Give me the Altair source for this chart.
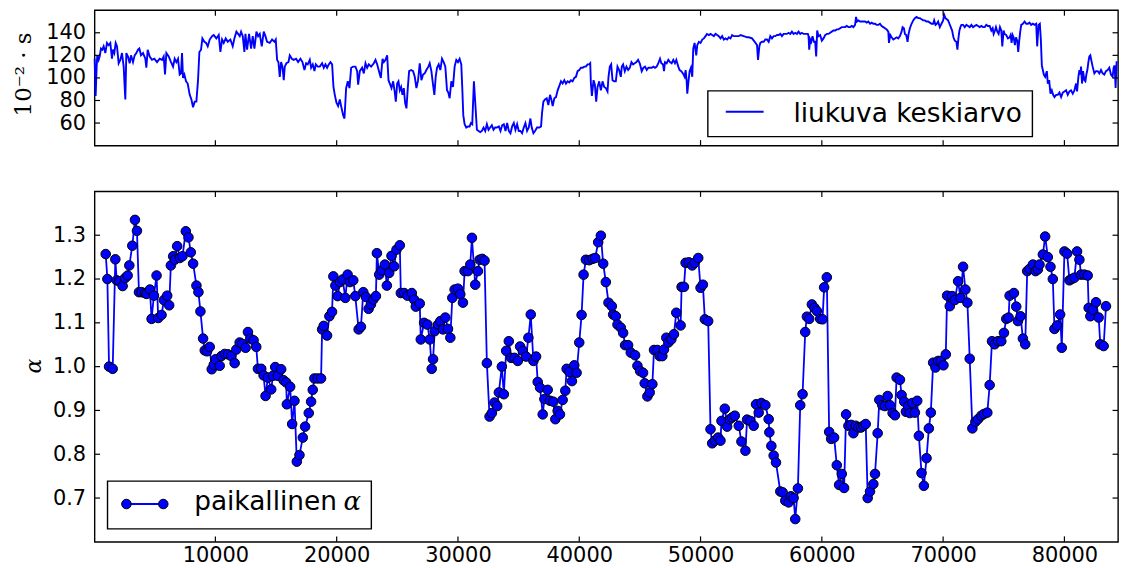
import altair as alt
import pandas as pd

# ---------------- data ----------------
# moving average (top panel)
top_x = [
    45, 128, 210, 265, 375, 458, 568, 678, 788, 925,
    1063, 1200, 1338, 1475, 1558, 1668, 1778, 1888, 2025, 2163,
    2300, 2438, 2575, 2658, 2795, 2933, 3043, 3208, 3345, 3483,
    3620, 3730, 3868, 4033, 4225, 4308, 4418, 4583, 4775, 4968,
    5188, 5408, 5600, 5738, 5848, 5958, 6150, 6343, 6508, 6645,
    6783, 6920, 7058, 7168, 7250, 7333, 7443, 7580, 7718, 7883,
    8020, 8158, 8295, 8433, 8570, 8680, 8818, 8928, 9093, 9230,
    9368, 9533, 9725, 9863, 10083, 10275, 10413, 10550, 10688, 10853,
    11018, 11238, 11430, 11568, 11733, 11870, 12008, 12118, 12255, 12393,
    12475, 12613, 12778, 12943, 13080, 13218, 13383, 13520, 13658, 13823,
    13988, 14125, 14263, 14483, 14675, 14868, 14978, 15088, 15198, 15308,
    15418, 15528, 15638, 15720, 15858, 16023, 16133, 16298, 16463, 16655,
    16820, 17013, 17178, 17343, 17480, 17618, 17783, 17893, 18030, 18168,
    18278, 18443, 18608, 18800, 18938, 19075, 19213, 19350, 19488, 19625,
    19735, 19845, 19983, 20120, 20258, 20368, 20533, 20643, 20780, 20918,
    21055, 21193, 21358, 21550, 21688, 21770, 21908, 22100, 22238, 22375,
    22513, 22650, 22843, 23063, 23200, 23338, 23558,
    23643, 23780, 23890, 24027, 24164, 24273, 24383, 24520, 24657, 24794,
    24876, 24986, 25095, 25205, 25315, 25424, 25534, 25643, 25753, 25863,
    25972, 26137, 26301, 26438, 26575, 26712, 26849, 26986, 27123, 27260,
    27397, 27561, 27671, 27808, 27945, 28055, 28164, 28274, 28411, 28548,
    28685, 28822, 28959, 29096, 29205, 29315, 29452, 29589, 29726, 29863,
    30000, 30137, 30274, 30356, 30438, 30548, 30685, 30822, 30959, 31069,
    31178, 31315, 31425, 31562, 31699, 31836, 31973, 32110, 32247, 32384,
    32521, 32658, 32795, 32932, 33069, 33206, 33370, 33507, 33644, 33781,
    33918, 34055, 34192, 34329, 34466, 34603, 34740, 34877, 35014, 35151,
    35288, 35425, 35562, 35699, 35836, 35973, 36083, 36220, 36357, 36521,
    36713, 36850, 36932, 37042, 37179, 37316, 37453, 37590, 37699, 37809,
    37946, 38083, 38220, 38357, 38494, 38631, 38768, 38905, 39042, 39179,
    39316, 39453, 39590, 39727, 39864, 40001, 40138, 40275, 40412, 40549,
    40686, 40823, 40905, 40960, 41042, 41179, 41289, 41398, 41508, 41645,
    41782, 41919, 42056, 42193, 42330, 42412, 42522, 42631, 42741, 42878,
    43015, 43152, 43289, 43426, 43508, 43618, 43755, 43892, 44029, 44166,
    44303, 44440, 44577, 44714, 44851, 44988, 45151, 45288, 45425, 45562,
    45699, 45836, 45973, 46110, 46247, 46384, 46521, 46658, 46768, 46905,
    46987, 47070, 47207, 47344, 47481, 47618, 47755, 47892, 48002, 48084,
    48166, 48276, 48413, 48550, 48687, 48769, 48851, 48906, 48988, 49098,
    49207, 49317, 49399, 49509, 49646, 49728, 49865, 50002, 50139, 50276,
    50413, 50523, 50687, 50824, 50961, 51098, 51235, 51372, 51509, 51646,
    51783, 51920, 52057, 52194, 52331, 52468, 52605, 52742, 52879, 53016,
    53153, 53290, 53564, 53838,
    53972, 54246, 54465, 54657, 54739, 54849, 54931, 55068, 55205, 55342,
    55479, 55616, 55753, 55890, 56027, 56164, 56301, 56438, 56575, 56712,
    56849, 56986, 57123, 57260, 57397, 57534, 57671, 57808, 57945, 58082,
    58219, 58356, 58493, 58630, 58767, 58849, 58904, 58959, 59041, 59123,
    59233, 59342, 59452, 59534, 59616, 59726, 59863, 60000, 60137, 60274,
    60411, 60548, 60685, 60822, 60959, 61096, 61233, 61370, 61507, 61644,
    61781, 61918, 62055, 62192, 62329, 62466, 62603, 62740, 62822, 62904,
    63014, 63151, 63288, 63425, 63562, 63699, 63836, 63973, 64110, 64247,
    64384, 64521, 64658, 64795, 64932, 65069, 65206, 65343, 65480, 65535,
    65644, 65754, 65891, 66028, 66165, 66302, 66439, 66576, 66658, 66768,
    66850, 66960, 67069, 67151, 67261, 67398, 67535, 67672, 67809, 67946,
    68083, 68220, 68357, 68494, 68631, 68768, 68905, 69042, 69179, 69261,
    69371, 69480, 69590, 69727, 69864, 70001, 70083, 70193, 70302, 70412,
    70522, 70631, 70741, 70850, 70960, 71097, 71179, 71261, 71344, 71426,
    71508, 71645, 71782, 71919, 72056, 72193, 72330, 72467, 72604, 72741,
    72878, 73015, 73152, 73289, 73426, 73563, 73700, 73837, 73974, 74084,
    74166, 74275, 74358, 74467, 74577, 74686, 74796, 74878, 74988, 75070,
    75207, 75344, 75481, 75563, 75645, 75728, 75810, 75919, 76002, 76111,
    76193, 76276, 76358, 76440, 76577, 76714, 76851, 76988, 77125, 77262,
    77399, 77536, 77673, 77755, 77865, 77974, 78057, 78139, 78221, 78303,
    78413, 78550, 78632, 78742, 78851, 78961, 79070, 79180, 79317, 79454,
    79591, 79728, 79865, 80002, 80139, 80276, 80413, 80550, 80687, 80824,
    80961, 81043, 81153, 81235, 81317, 81372, 81454, 81536, 81646, 81728,
    81810, 81893, 81975, 82057, 82139, 82249, 82331, 82468, 82605, 82742,
    82879, 83016, 83153, 83290, 83427, 83564, 83701, 83838, 83975, 84057,
    84139, 84221, 84303, 84385,
]
top_y = [
    117, 84, 110, 120, 116, 119, 126, 125, 128, 122,
    131, 129, 131, 117, 125, 122, 131, 128, 113, 116,
    122, 110, 81, 122, 119, 113, 120, 114, 120, 122,
    125, 126, 120, 122, 117, 109, 125, 119, 116, 117,
    114, 117, 116, 119, 103, 122, 119, 114, 110, 117,
    114, 117, 103, 104, 122, 100, 103, 97, 95, 85,
    81, 74, 79, 79, 98, 123, 125, 135, 132, 131,
    128, 134, 137, 138, 135, 138, 123, 134, 131, 135,
    132, 134, 128, 135, 141, 139, 137, 141, 137, 123,
    139, 125, 139, 126, 137, 126, 141, 137, 139, 128,
    141, 137, 132, 131, 134, 132, 134, 116, 114, 101,
    114, 110, 98, 110, 113, 114, 120, 117, 116, 117,
    114, 117, 114, 107, 113, 112, 116, 109, 112, 106,
    112, 110, 110, 113, 109, 112, 109, 112, 114, 112,
    92, 85, 78, 75, 81, 75, 67, 64, 91, 97,
    91, 109, 110, 110, 106, 94, 106, 109, 104, 113,
    109, 112, 110, 113, 116, 112, 103,
    100, 117, 114, 116, 120, 98, 95, 91, 97, 87,
    79, 95, 97, 89, 92, 85, 91, 78, 73, 91,
    106, 107, 106, 101, 91, 98, 113, 98, 103, 104,
    107, 110, 113, 106, 94, 85, 101, 109, 112, 107,
    117, 114, 110, 89, 87, 82, 97, 92, 110, 116,
    114, 117, 112, 91, 67, 59, 56, 57, 57, 60,
    59, 97, 78, 54, 53, 52, 53, 56, 53, 59,
    54, 56, 58, 54, 56, 56, 57, 53, 58, 59,
    53, 60, 53, 51, 57, 60, 54, 59, 53, 53,
    51, 56, 60, 53, 56, 64, 56, 51, 53, 56,
    56, 57, 69, 79, 81, 82, 76, 85, 81, 75,
    82, 83, 89, 93, 97, 95, 98, 95, 97, 96,
    98, 97, 100, 101, 106, 107, 109, 109, 110, 110,
    112, 112, 113, 95, 84, 98, 94, 79, 92, 97,
    89, 97, 92, 91, 88, 101, 110, 112, 98, 97,
    97, 110, 107, 101, 110, 112, 106, 110, 107, 109,
    114, 112, 113, 114, 116, 113, 106, 109, 110, 107,
    109, 109, 109, 110, 109, 110, 113, 117, 113, 112,
    106, 114, 113, 116, 114, 113, 116, 113, 116, 113,
    110, 107, 106, 104, 101, 107, 98, 86, 95, 106,
    109, 101, 126, 131, 120, 129, 132, 131, 134, 135,
    137, 139, 138, 139, 138, 137, 139, 138, 137, 135,
    137, 134, 135, 134, 136, 135, 138, 137, 137, 137,
    137, 138, 137, 136,
    136, 135, 132, 129, 116, 128, 131, 132, 132, 134,
    134, 132, 137, 135, 137, 137, 138, 138, 139, 137,
    139, 139, 139, 140, 139, 141, 139, 140, 139, 141,
    139, 140, 139, 139, 139, 139, 137, 125, 134, 132,
    137, 132, 132, 119, 142, 137, 138, 133, 135, 138,
    139, 139, 140, 141, 142, 142, 143, 143, 144, 145,
    145, 145, 146, 145, 145, 146, 145, 147, 154, 150,
    151, 150, 150, 150, 150, 149, 150, 148, 149, 148,
    148, 147, 147, 148, 146, 145, 144, 143, 141, 131,
    138, 136, 134, 135, 136, 135, 137, 141, 145, 144,
    139, 138, 132, 139, 144, 148, 151, 153, 154, 153,
    153, 152, 151, 151, 150, 150, 149, 148, 148, 151,
    147, 148, 150, 145, 148, 151, 156, 153, 152, 151,
    148, 145, 142, 136, 133, 132, 125, 135, 142, 145,
    147, 147, 145, 147, 146, 145, 147, 145, 146, 147,
    146, 145, 146, 145, 145, 147, 146, 146, 142, 144,
    139, 142, 145, 141, 139, 145, 142, 128, 142, 139,
    138, 135, 136, 138, 131, 138, 136, 129, 136, 133,
    123, 133, 141, 147, 148, 150, 148, 148, 149, 147,
    148, 147, 148, 128, 147, 148, 134, 111, 107, 103,
    101, 106, 95, 98, 86, 89, 85, 83, 85, 85,
    87, 83, 87, 88, 89, 85, 88, 89, 86, 89,
    95, 88, 101, 107, 103, 110, 95, 106, 98, 97,
    103, 107, 114, 119, 120, 114, 110, 104, 106, 106,
    104, 107, 104, 103, 106, 107, 109, 103, 101, 109,
    111, 91, 114, 114,
]

# local alpha (bottom panel)
alpha_x = [
    958, 1095, 1232, 1533, 1752, 1862, 2081, 2355, 2547, 2766,
    2903, 3150, 3369, 3534, 3698, 3917, 4191, 4328, 4602, 4739,
    4931, 5150, 5287, 5561, 5753, 6027, 6191, 6328, 6520, 6657,
    6849, 7068, 7287, 7561, 7781, 7972, 8164, 8438, 8603, 8767,
    8986, 9123, 9315, 9534, 9699, 9863, 10027, 10356, 10493, 10767,
    11041, 11315, 11589, 11726, 12000, 12219, 12493, 12685, 12877, 13151,
    13370, 13507, 13781, 13973, 14137, 14329, 14603, 14740, 14932, 15151,
    15425, 15617, 15836, 15891, 16165, 16329, 16521, 16713, 16932, 17206,
    17398, 17699, 17891, 18028, 18165, 18439, 18713, 18800, 18932, 19206,
    19398, 19617, 19727, 19891, 20082, 20274, 20493, 20712, 20904, 21097,
    21371, 21535, 21809, 22001, 22193, 22412, 22631, 22823, 23015, 23234,
    23316, 23508, 23727, 23973, 24137, 24329, 24520, 24740, 24932, 25206,
    25289, 25563, 25837, 26193, 26385, 26522, 26851, 26933, 27207, 27481,
    27673, 27838, 27947, 28082, 28356, 28548, 28767, 28959, 29178, 29370,
    29534, 29726, 30000, 30192, 30411, 30548, 30822, 31014, 31151, 31425,
    31644, 31781, 32000, 32192, 32384, 32603, 32795, 33014, 33233, 33370,
    33617, 33781, 33973, 34192, 34384, 34658, 34932, 35124, 35343, 35617,
    35809, 36001, 36220, 36439, 36576, 36768, 36987, 37124, 37398, 37590,
    37864, 38028, 38220, 38411, 38631, 38850, 38960, 39179, 39398, 39590,
    39781, 40000, 40192, 40356, 40548, 40822, 41096, 41315, 41562, 41781,
    41973, 42192, 42411, 42685, 42795, 43014, 43152, 43426, 43617, 43781,
    44028, 44248, 44604, 44796, 45015, 45261, 45398, 45617, 45809, 46028,
    46165, 46439, 46631, 46851, 46987, 47179, 47343, 47590, 47809, 48000,
    48357, 48439, 48631, 48768, 49042, 49316, 49508, 49809, 50000, 50192,
    50356, 50630, 50822, 50959, 51178, 51452, 51644, 51726, 52000, 52192,
    52411, 52603, 52822, 53151, 53370, 53699, 53836, 54110, 54384, 54576,
    54795, 55014, 55343, 55617, 55672, 55837, 56028, 56219, 56575, 56767,
    56986, 57260, 57452, 57671, 57808, 58027, 58219, 58411, 58630, 58767,
    58959, 59178, 59397, 59589, 59863, 60055, 60192, 60411, 60603, 60767,
    61014, 61233, 61425, 61644, 61836, 62000, 62192, 62411, 62603, 62795,
    63014, 63233, 63425, 63617, 63781, 63973, 64247, 64384, 64603, 64740,
    64986, 65206, 65425, 65617, 65836, 66028, 66165, 66439, 66576, 66795,
    66932, 67124, 67261, 67453, 67672, 67864, 68001, 68220, 68412, 68631,
    68823, 68987, 69179, 69371, 69590, 69809, 70028, 70220, 70330, 70549,
    70741, 70960, 71234, 71426, 71645, 71837, 72001, 72193, 72412, 72659,
    72878, 73152, 73371, 73645, 73837, 74029, 74248, 74522, 74796, 75015,
    75207, 75399, 75481, 75837, 76029, 76166, 76385, 76577, 76769, 76933,
    77125, 77399, 77618, 77810, 77947, 78221, 78413, 78633, 78852, 79044,
    79180, 79399, 79646, 79783, 80002, 80221, 80413, 80605, 80824, 81043,
    81235, 81372, 81646, 81920, 82000, 82139, 82331, 82605, 82824, 82961,
    83235, 83427,
]
alpha_y = [
    1.257, 1.200, 1.000, 0.995, 1.245, 1.197, 1.195, 1.184, 1.202, 1.208,
    1.231, 1.276, 1.335, 1.310, 1.170, 1.170, 1.168, 1.166, 1.176, 1.109,
    1.162, 1.208, 1.111, 1.118, 1.152, 1.162, 1.140, 1.231, 1.252, 1.244,
    1.275, 1.248, 1.252, 1.309, 1.295, 1.261, 1.235, 1.185, 1.170, 1.126,
    1.064, 1.037, 1.035, 1.045, 0.994, 1.004, 1.017, 1.002, 1.024, 1.029,
    1.028, 1.024, 1.008, 1.039, 1.055, 1.052, 1.043, 1.079, 1.064, 1.060,
    1.045, 0.995, 0.995, 0.980, 0.933, 0.975, 0.948, 0.979, 0.999, 0.979,
    0.994, 0.969, 0.964, 0.914, 0.954, 0.869, 0.922, 0.783, 0.798, 0.838,
    0.863, 0.894, 0.920, 0.947, 0.973, 0.973, 0.973, 1.085, 1.093, 1.071,
    1.115, 1.125, 1.206, 1.185, 1.161, 1.193, 1.199, 1.157, 1.210, 1.193,
    1.197, 1.161, 1.085, 1.091, 1.170, 1.159, 1.132, 1.142, 1.153, 1.161,
    1.259, 1.210, 1.220, 1.233, 1.185, 1.214, 1.253, 1.229, 1.267, 1.277,
    1.168, 1.168, 1.162, 1.168, 1.153, 1.137, 1.144, 1.062, 1.100, 1.096,
    1.062, 0.995, 1.017, 1.081, 1.096, 1.104, 1.085, 1.112, 1.086, 1.066,
    1.157, 1.176, 1.178, 1.165, 1.146, 1.218, 1.218, 1.233, 1.294, 1.187,
    1.218, 1.244, 1.246, 1.242, 1.008, 0.886, 0.894, 0.918, 0.910, 0.941,
    1.000, 0.937, 1.036, 1.058, 1.020, 1.020, 1.013, 1.046, 1.036, 1.023,
    1.066, 1.119, 1.013, 1.023, 0.965, 0.952, 0.891, 0.926, 0.947, 0.922,
    0.920, 0.880, 0.899, 0.891, 0.924, 0.945, 0.995, 0.988, 0.967, 1.003,
    0.986, 1.055, 1.118, 1.210, 1.244, 1.243, 1.246, 1.248, 1.284, 1.299,
    1.235, 1.193, 1.146, 1.138, 1.119, 1.115, 1.096, 1.089, 1.077, 1.049,
    1.049, 1.032, 1.026, 1.002, 0.990, 0.986, 0.962, 0.932, 0.941, 0.960,
    1.038, 1.038, 1.024, 1.024, 1.039, 1.066, 1.055, 1.062, 1.074, 1.123,
    1.094, 1.182, 1.182, 1.237, 1.238, 1.231, 1.237, 1.248, 1.180, 1.187,
    1.108, 1.104, 0.857, 0.825, 0.831, 0.838, 0.831, 0.876, 0.904, 0.863,
    0.880, 0.884, 0.888, 0.865, 0.829, 0.808, 0.879, 0.876, 0.865, 0.914,
    0.895, 0.917, 0.912, 0.880, 0.850, 0.819, 0.797, 0.781, 0.715, 0.713,
    0.694, 0.690, 0.704, 0.700, 0.652, 0.722, 0.912, 0.937, 1.079, 1.114,
    1.109, 1.142, 1.134, 1.127, 1.109, 1.108, 1.181, 1.204, 0.851, 0.835,
    0.838, 0.775, 0.730, 0.755, 0.723, 0.891, 0.865, 0.867, 0.848, 0.865,
    0.861, 0.861, 0.865, 0.869, 0.700, 0.715, 0.732, 0.755, 0.848, 0.924,
    0.912, 0.910, 0.933, 0.912, 0.894, 0.889, 0.975, 0.970, 0.935, 0.920,
    0.897, 0.910, 0.894, 0.917, 0.895, 0.922, 0.842, 0.757, 0.728, 0.791,
    0.859, 0.895, 1.009, 0.998, 1.013, 1.013, 1.003, 1.028, 1.162, 1.138,
    1.161, 1.152, 1.195, 1.157, 1.228, 1.176, 1.146, 1.018, 0.859, 0.874,
    0.880, 0.888, 0.892, 0.895, 0.958, 1.058, 1.051, 1.058, 1.058, 1.077,
    1.109, 1.112, 1.162, 1.168, 1.137, 1.104, 1.115, 1.064, 1.051, 1.218,
    1.223, 1.233, 1.218, 1.222, 1.233, 1.256, 1.297, 1.250, 1.228, 1.200,
    1.086, 1.094, 1.119, 1.043, 1.263, 1.258, 1.197, 1.200, 1.203, 1.263,
    1.244, 1.210, 1.210, 1.208, 1.134, 1.115, 1.130, 1.147, 1.112, 1.051,
    1.047, 1.138,
]

x_ticks = [10000, 20000, 30000, 40000, 50000, 60000, 70000, 80000]
top_y_ticks = [60, 80, 100, 120, 140]
bottom_y_ticks = [0.7, 0.8, 0.9, 1.0, 1.1, 1.2, 1.3]
top_title = "10⁻² · s"
bottom_title = "α"
top_legend_label = "liukuva keskiarvo"
bottom_legend_label = "paikallinen"
bottom_legend_symbol = "α"

# ---------------- layout / style ----------------
W, H1, H2 = 1028, 136, 352
TICK = 5.5
BLUE = "#0000ff"
SANS = "DejaVu Sans"
SERIF = "DejaVu Serif"
LABEL_SIZE = 21

xscale = alt.Scale(domain=[40, 84420], nice=False, zero=False)
ytop = alt.Scale(domain=[40, 160], nice=False, zero=False)
ybot = alt.Scale(domain=[0.6, 1.4], nice=False, zero=False)

top_df = pd.DataFrame({"x": top_x[:len(top_y)], "y": top_y[:len(top_x)]})
alpha_df = pd.DataFrame({"x": alpha_x[:len(alpha_y)], "y": alpha_y[:len(alpha_x)]})
xt_df = pd.DataFrame({"t": x_ticks})


def yaxis(values, fmt, title, tx, ty, tfont, tsize, tstyle):
    return alt.Axis(
        values=values, format=fmt, title=title, grid=False, domain=False,
        ticks=False, tickSize=0, labelPadding=9, labelFont=SANS,
        labelFontSize=LABEL_SIZE, labelColor="black", labelOverlap=False,
        titleX=tx, titleY=ty, titleAngle=270, titleAlign="center",
        titleBaseline="middle", titleFont=tfont, titleFontSize=tsize,
        titleFontWeight="normal", titleFontStyle=tstyle, titleColor="black",
    )


xaxis_bottom = alt.Axis(values=x_ticks, format="d", title=None, grid=False,
                        domain=False, ticks=False, tickSize=0, labelPadding=3,
                        labelFont=SANS, labelFontSize=LABEL_SIZE, labelColor="black",
                        labelFlush=False)


def tick_layers(yticks, yscale, yax, xax, h):
    ydf = pd.DataFrame({"t": yticks})
    rule = dict(color="black", strokeWidth=1.2)
    return [
        alt.Chart(xt_df).mark_rule(**rule).encode(
            x=alt.X("t:Q", scale=xscale, axis=xax), y=alt.value(0), y2=alt.value(TICK)),
        alt.Chart(xt_df).mark_rule(**rule).encode(
            x=alt.X("t:Q", scale=xscale, axis=xax), y=alt.value(h - TICK), y2=alt.value(h)),
        alt.Chart(ydf).mark_rule(**rule).encode(
            y=alt.Y("t:Q", scale=yscale, axis=yax), x=alt.value(0), x2=alt.value(TICK)),
        alt.Chart(ydf).mark_rule(**rule).encode(
            y=alt.Y("t:Q", scale=yscale, axis=yax), x=alt.value(W - TICK), x2=alt.value(W)),
    ]


# ---------------- top panel ----------------
yaxis_top = yaxis(top_y_ticks, "d", top_title, -71, 64, SERIF, 23, "normal")
top_line = alt.Chart(top_df).mark_line(color=BLUE, strokeWidth=1.9).encode(
    x=alt.X("x:Q", scale=xscale, axis=None),
    y=alt.Y("y:Q", scale=ytop, axis=yaxis_top),
)
top_leg_df = pd.DataFrame({"label": [top_legend_label]})
top_leg_box = alt.Chart(top_leg_df).mark_rect(
    fill="white", stroke="black", strokeWidth=1.4).encode(
    x=alt.value(616), x2=alt.value(942), y=alt.value(81), y2=alt.value(127))
top_leg_line = alt.Chart(top_leg_df).mark_rule(color=BLUE, strokeWidth=1.9).encode(
    x=alt.value(634), x2=alt.value(672), y=alt.value(102))
top_leg_text = alt.Chart(top_leg_df).mark_text(
    align="left", baseline="alphabetic", font=SANS, fontSize=26.5, color="black").encode(
    x=alt.value(702), y=alt.value(112), text="label:N")

top = alt.layer(top_line, *tick_layers(top_y_ticks, ytop, yaxis_top, None, H1),
                top_leg_box, top_leg_line, top_leg_text).properties(width=W, height=H1)

# ---------------- bottom panel ----------------
yaxis_bot = yaxis(bottom_y_ticks, ".1f", bottom_title, -61, 175, SERIF, 22, "italic")
enc_x = alt.X("x:Q", scale=xscale, axis=xaxis_bottom)
enc_y = alt.Y("y:Q", scale=ybot, axis=yaxis_bot)
MARK = dict(color=BLUE, opacity=1, size=92, stroke="black", strokeWidth=1.0)
bot_line = alt.Chart(alpha_df).mark_line(color=BLUE, strokeWidth=1.8).encode(x=enc_x, y=enc_y)
bot_pts = alt.Chart(alpha_df).mark_circle(**MARK).encode(x=enc_x, y=enc_y)

bot_leg_df = pd.DataFrame({"label": [bottom_legend_label], "sym": [bottom_legend_symbol]})
bot_leg_box = alt.Chart(bot_leg_df).mark_rect(
    fill="white", stroke="black", strokeWidth=1.4).encode(
    x=alt.value(13), x2=alt.value(278), y=alt.value(291), y2=alt.value(339))
bot_leg_line = alt.Chart(bot_leg_df).mark_rule(color=BLUE, strokeWidth=1.8).encode(
    x=alt.value(32), x2=alt.value(69), y=alt.value(314))
bot_leg_pt1 = alt.Chart(bot_leg_df).mark_circle(**MARK).encode(
    x=alt.value(32), y=alt.value(314))
bot_leg_pt2 = alt.Chart(bot_leg_df).mark_circle(**MARK).encode(
    x=alt.value(69), y=alt.value(314))
bot_leg_text = alt.Chart(bot_leg_df).mark_text(
    align="left", baseline="alphabetic", font=SANS, fontSize=26.5, color="black").encode(
    x=alt.value(100), y=alt.value(320), text="label:N")
bot_leg_sym = alt.Chart(bot_leg_df).mark_text(
    align="left", baseline="alphabetic", font=SERIF, fontSize=26, fontStyle="italic",
    color="black").encode(x=alt.value(250), y=alt.value(320), text="sym:N")

bottom = alt.layer(bot_line, bot_pts,
                   *tick_layers(bottom_y_ticks, ybot, yaxis_bot, xaxis_bottom, H2),
                   bot_leg_box, bot_leg_line, bot_leg_pt1, bot_leg_pt2,
                   bot_leg_text, bot_leg_sym).properties(width=W, height=H2)

chart = alt.vconcat(top, bottom, spacing=42).properties(
    padding={"left": 12, "top": 7, "right": 0, "bottom": 0},
    background="white",
).configure_view(stroke="black", strokeWidth=1.4)

chart.save("out.html", embed_options={"renderer": "svg", "actions": False})
